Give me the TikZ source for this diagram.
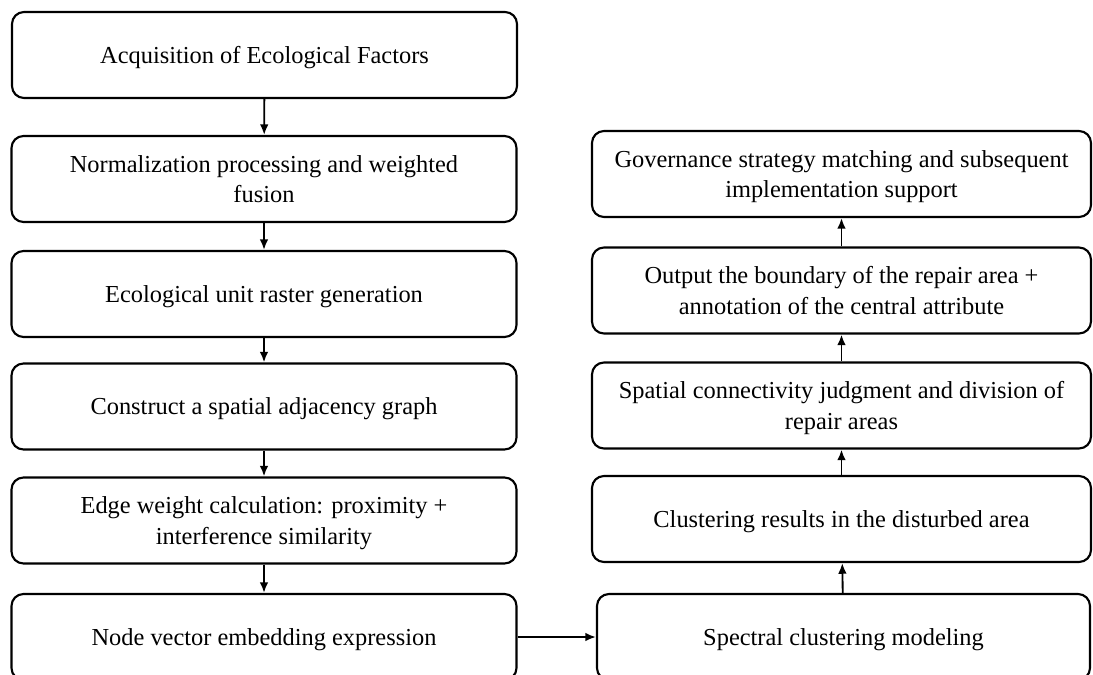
\documentclass[tikz,border=0pt]{standalone}
\usepackage{fontspec}
\setmainfont{Liberation Serif}
\usetikzlibrary{arrows.meta}

\tikzset{every picture/.style={line width=0.75pt}}
\tikzset{
  stepbox/.style={draw, line width=1.6pt, rounded corners=9pt, inner sep=0pt,
    minimum width=378.75pt, minimum height=64.5pt, align=center, text depth=0pt,
    font=\fontsize{18.3}{22.8}\selectfont},
  flowarrow/.style={line width=1.4pt, -{Latex[length=8pt,width=6.5pt]}}
}

\begin{document}
\begin{tikzpicture}[x=0.75pt,y=0.75pt,yscale=-1,xscale=1]
\useasboundingbox (0,0) rectangle (1093,675);

% Left column
\node [stepbox] (acq) at (264.5,55) {Acquisition of Ecological Factors};
\node [stepbox] (norm) at (264,179) {Normalization processing and weighted\\fusion};
\node [stepbox] (raster) at (264,294) {Ecological unit raster generation};
\node [stepbox] (graph) at (264,406.5) {Construct a spatial adjacency graph};
\node [stepbox] (edge) at (264,520.5) {Edge weight calculation: proximity +\\interference similarity};
\node [stepbox] (embed) at (264,637) {Node vector embedding expression};

% Right column
\node [stepbox, minimum width=374.25pt] (gov) at (841.5,174) {Governance strategy matching and subsequent\\implementation support};
\node [stepbox, minimum width=374.25pt] (bound) at (841.5,290.5) {Output the boundary of the repair area +\\annotation of the central attribute};
\node [stepbox, minimum width=374.25pt] (conn) at (841.5,405.5) {Spatial connectivity judgment and division of\\repair areas};
\node [stepbox, minimum width=374.25pt] (clres) at (841.5,519) {Clustering results in the disturbed area};
\node [stepbox, minimum width=369.75pt] (spec) at (843.5,637) {Spectral clustering modeling};

% Connectors
\draw [flowarrow] (acq) -- (norm);
\draw [flowarrow] (norm) -- (raster);
\draw [flowarrow] (raster) -- (graph);
\draw [flowarrow] (graph) -- (edge);
\draw [flowarrow] (edge) -- (embed);
\draw [flowarrow] (embed) -- (spec);
\draw [flowarrow] (spec) -- (clres);
\draw [flowarrow] (clres) -- (conn);
\draw [flowarrow] (conn) -- (bound);
\draw [flowarrow] (bound) -- (gov);

\end{tikzpicture}
\end{document}
